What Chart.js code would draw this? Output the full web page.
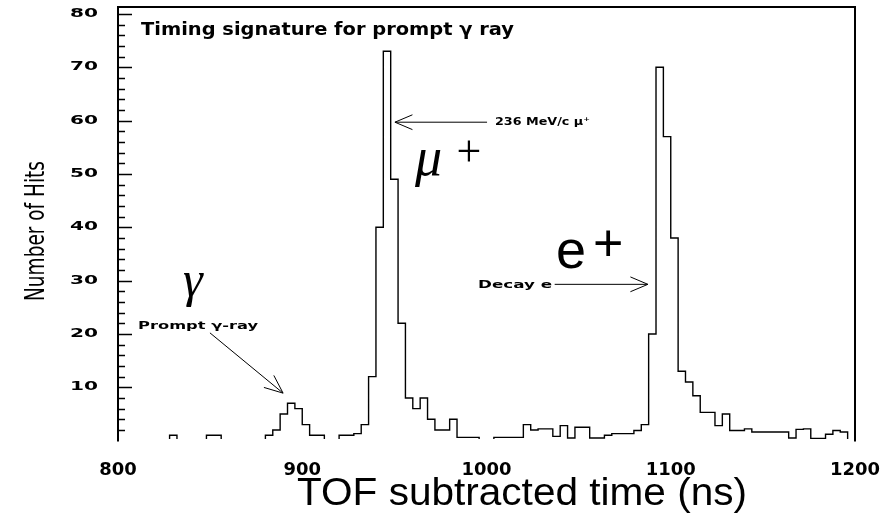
<!DOCTYPE html>
<html>
<head>
<meta charset="utf-8">
<script src="https://cdn.jsdelivr.net/npm/chart.js@4.4.1/dist/chart.umd.min.js"></script>
<style>
html, body { margin: 0; padding: 0; background: #fff; }
</style>
</head>
<body>
<canvas id="tofCanvas" width="894" height="514"></canvas>
<script>
// TOF histogram: 100 bins of 4 ns between 800 and 1200 ns
var binStart = 800;
var binWidth = 4;
var hits = [
    0, 0, 0, 0, 0, 0, 0, 1, 0, 0,
    0, 0, 1, 1, 0, 0, 0, 0, 0, 0,
    1, 2, 5, 7, 6, 3, 1, 1, 0, 0,
    1, 1, 1.3, 3, 12, 40, 73, 49, 22, 8,
    6, 8, 4, 2, 2, 4, 0.6, 0.6, 0.6, 0,
    0, 0.6, 0.6, 0.6, 0.6, 3, 2, 2.2, 2.2, 0.8,
    2.8, 0.5, 2.5, 2.5, 0.5, 0.5, 1, 1.3, 1.3, 1.3,
    1.9, 3, 20, 70, 57, 38, 13, 11, 8.4, 5.3,
    5.3, 2.8, 5, 1.9, 1.9, 2.2, 1.6, 1.6, 1.6, 1.6,
    1.6, 0.5, 2.1, 2.2, 0.4, 0.4, 1.2, 1.9, 1.6, 0
];
var xTicks = [800, 900, 1000, 1100, 1200];
var yTicks = [10, 20, 30, 40, 50, 60, 70, 80];

document.addEventListener('DOMContentLoaded', function() {
    histChart();
});

// draw text squeezed/stretched to a given width
function fitText(ctx, text, x, y, font, width, align) {
    ctx.save();
    ctx.font = font;
    var s = width / ctx.measureText(text).width;
    ctx.translate(x, y);
    ctx.scale(s, 1);
    ctx.textAlign = align || 'left';
    ctx.fillText(text, 0, 0);
    ctx.restore();
}

function arrow(ctx, x1, y1, x2, y2, len) {
    var a = Math.atan2(y2 - y1, x2 - x1);
    ctx.beginPath();
    ctx.moveTo(x1, y1);
    ctx.lineTo(x2, y2);
    ctx.moveTo(x2 - len * Math.cos(a - 0.4), y2 - len * Math.sin(a - 0.4));
    ctx.lineTo(x2, y2);
    ctx.lineTo(x2 - len * Math.cos(a + 0.4), y2 - len * Math.sin(a + 0.4));
    ctx.stroke();
}

var decorations = {
    id: 'decorations',
    afterDraw: function(chart) {
        var ctx = chart.ctx;
        var xs = chart.scales.x, ys = chart.scales.y;
        var area = chart.chartArea;
        var X = function(v) { return xs.getPixelForValue(v); };
        var Y = function(v) { return ys.getPixelForValue(v); };
        var y0 = Y(0);

        ctx.save();
        ctx.strokeStyle = '#000';
        ctx.fillStyle = '#000';

        // frame (bottom edge is hidden in the original)
        ctx.lineWidth = 2;
        ctx.beginPath();
        ctx.moveTo(area.left, y0 + 1);
        ctx.lineTo(area.left, area.top);
        ctx.lineTo(area.right, area.top);
        ctx.lineTo(area.right, y0 + 1);
        ctx.stroke();

        // inward ticks on the y axis
        ctx.lineWidth = 1.4;
        ctx.beginPath();
        for (var v = 2; v <= 80; v += 2) {
            var py = Math.round(Y(v)) + 0.5;
            ctx.moveTo(area.left, py);
            ctx.lineTo(area.left + (v % 10 === 0 ? 14 : 7), py);
        }
        ctx.stroke();

        // y tick labels (wide bold)
        ctx.textBaseline = 'middle';
        ctx.font = 'bold 12px "DejaVu Sans"';
        var ys2 = 28 / ctx.measureText('80').width;
        yTicks.forEach(function(t) {
            ctx.save();
            ctx.translate(98, Y(t));
            ctx.scale(ys2, 1);
            ctx.textAlign = 'right';
            ctx.fillText(String(t), 0, 0);
            ctx.restore();
        });

        // x tick labels
        ctx.textBaseline = 'alphabetic';
        ctx.font = 'bold 17px "DejaVu Sans"';
        var xs2 = 50 / ctx.measureText('1000').width;
        xTicks.forEach(function(t) {
            ctx.save();
            ctx.translate(X(t), 475);
            ctx.scale(xs2, 1);
            ctx.textAlign = 'center';
            ctx.fillText(String(t), 0, 0);
            ctx.restore();
        });

        // axis titles
        fitText(ctx, 'TOF subtracted time (ns)', 297, 505, '38px "Liberation Sans"', 450, 'left');
        ctx.save();
        ctx.translate(44, 231);
        ctx.rotate(-Math.PI / 2);
        fitText(ctx, 'Number of Hits', 0, 0, '26px "Liberation Sans Narrow", "DejaVu Sans Condensed", sans-serif', 140, 'center');
        ctx.restore();

        // title inside the frame
        fitText(ctx, 'Timing signature for prompt \u03b3 ray', X(812.5), Y(76.1), 'bold 17px "DejaVu Sans"', 373, 'left');

        // annotations
        ctx.lineWidth = 1;
        ctx.textBaseline = 'middle';
        arrow(ctx, X(1000.3), Y(59.7), X(950.3), Y(59.7), 19);
        fitText(ctx, '236 MeV/c \u03bc\u207a', X(1004.6), Y(59.6), 'bold 10.5px "DejaVu Sans"', 95, 'left');

        fitText(ctx, 'Decay e', X(995.4), Y(29.2), 'bold 10.5px "DejaVu Sans"', 74, 'left');
        arrow(ctx, X(1037), Y(29.3), X(1087.6), Y(29.3), 19);

        fitText(ctx, 'Prompt \u03b3-ray', X(810.9), Y(21.5), 'bold 10.5px "DejaVu Sans"', 120, 'left');
        arrow(ctx, X(849.9), Y(20.2), X(889.6), Y(8.9), 20);

        // large hand-written style labels
        ctx.textBaseline = 'alphabetic';
        ctx.textAlign = 'left';
        ctx.font = 'italic 54px "Liberation Serif"';
        ctx.fillText('\u03bc', X(961.2), 175);
        ctx.font = '44px "Liberation Serif"';
        ctx.textAlign = 'center';
        ctx.fillText('+', X(990.5), 166);

        ctx.textAlign = 'left';
        ctx.font = 'italic 50px "Liberation Serif"';
        ctx.fillText('\u03b3', X(835.3), 296);

        ctx.font = '54px "Liberation Sans"';
        ctx.fillText('e', X(1037.7), 268);
        ctx.font = '52px "Liberation Sans"';
        ctx.textAlign = 'center';
        ctx.fillText('+', X(1066), 261);

        ctx.restore();
    }
};

function histChart() {
    var ctx = document.getElementById('tofCanvas').getContext('2d');

    var points = hits.map(function(h, i) {
        return { x: binStart + i * binWidth, y: h };
    });
    points.push({ x: binStart + hits.length * binWidth, y: hits[hits.length - 1] });

    new Chart(ctx, {
        type: 'line',
        data: {
            datasets: [{
                label: 'Number of Hits',
                data: points,
                stepped: 'before',
                borderColor: '#000',
                borderWidth: 1.4,
                pointRadius: 0,
                fill: false
            }]
        },
        options: {
            responsive: false,
            animation: false,
            layout: { padding: { left: 118, right: 39, top: 7, bottom: 75 } },
            plugins: {
                legend: { display: false },
                tooltip: { enabled: false }
            },
            scales: {
                x: { type: 'linear', min: 800, max: 1200, display: false },
                y: { min: 0.3, max: 81.3, display: false }
            }
        },
        plugins: [decorations]
    });
}
</script>
</body>
</html>
